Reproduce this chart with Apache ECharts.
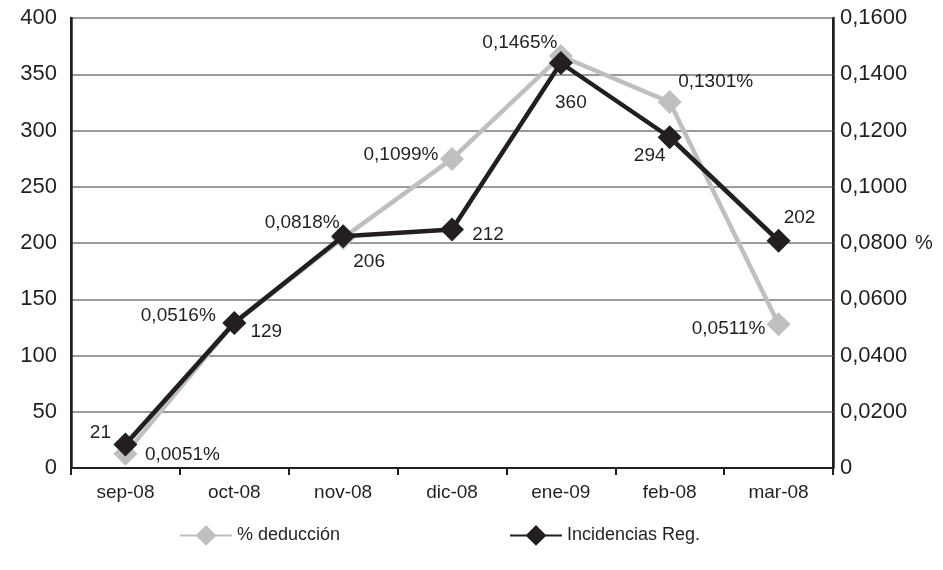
<!DOCTYPE html>
<html>
<head>
<meta charset="utf-8">
<script src="https://cdn.jsdelivr.net/npm/echarts@6/dist/echarts.min.js"></script>
<style>
  html, body { margin: 0; padding: 0; background: #ffffff; }
  #chart { width: 943px; height: 570px; }
</style>
</head>
<body>
<div id="chart"></div>
<script>
// Months on the horizontal axis
const categories = ['sep-08', 'oct-08', 'nov-08', 'dic-08', 'ene-09', 'feb-08', 'mar-08'];

// Registered incidents (left axis)
const incidencias = [21, 129, 206, 212, 360, 294, 202];

// Deduction percentage (right axis)
const deduccion = [0.0051, 0.0516, 0.0818, 0.1099, 0.1465, 0.1301, 0.0511];

// Axis ranges
const leftAxisRange = { min: 0, max: 400, interval: 50 };
const rightAxisRange = { min: 0, max: 0.16, interval: 0.02 };

// Label placement around each marker (pixels from the marker centre)
const deduccionLabelOffsets = [[57, 1], [-56, -7], [-41, -15], [-51, -4], [-41, -13], [46, -20], [-50, 4]];
const incidenciasLabelOffsets = [[-25, -12], [32, 9], [26, 26], [36, 5], [10, 40], [-20, 19], [21, -23]];

const FONT = '"Liberation Sans", Arial, sans-serif';
const INK = '#231f20';
const GREY = '#bfbfc1';

function fmtPct(v) {
  return v.toFixed(4).replace('.', ',') + '%';
}

const chart = echarts.init(document.getElementById('chart'), null, { renderer: 'canvas' });

chart.setOption({
  animation: false,
  backgroundColor: '#ffffff',
  textStyle: { fontFamily: FONT, color: INK },
  grid: {
    left: 71, right: 110, top: 18, bottom: 102,
    show: true, borderColor: INK, borderWidth: 2
  },
  legend: [
    {
      data: ['% deducción'],
      left: 174, top: 520,
      itemWidth: 52, itemHeight: 26,
      textStyle: { fontFamily: FONT, fontSize: 18, color: INK }
    },
    {
      data: ['Incidencias Reg.'],
      left: 504, top: 520,
      itemWidth: 52, itemHeight: 26,
      textStyle: { fontFamily: FONT, fontSize: 18, color: INK }
    }
  ],
  xAxis: {
    type: 'category',
    data: categories,
    boundaryGap: true,
    axisLine: { show: true, lineStyle: { color: INK, width: 2 } },
    axisTick: { show: true, length: 7, inside: false, lineStyle: { color: INK, width: 2 } },
    axisLabel: { fontFamily: FONT, fontSize: 19, color: INK, margin: 15 },
    splitLine: { show: false }
  },
  yAxis: [
    {
      type: 'value',
      position: 'left',
      min: leftAxisRange.min, max: leftAxisRange.max, interval: leftAxisRange.interval,
      axisLine: { show: true, lineStyle: { color: INK, width: 2.5 } },
      axisTick: { show: false },
      axisLabel: { fontFamily: FONT, fontSize: 22, color: INK, margin: 14 },
      splitLine: { show: true, lineStyle: { color: '#9a9a9a', width: 2 } }
    },
    {
      type: 'value',
      position: 'right',
      min: rightAxisRange.min, max: rightAxisRange.max, interval: rightAxisRange.interval,
      name: '%',
      nameLocation: 'middle',
      nameRotate: 0,
      nameGap: 82,
      nameTextStyle: { fontFamily: FONT, fontSize: 20, color: INK },
      axisLine: { show: true, lineStyle: { color: INK, width: 2.5 } },
      axisTick: { show: false },
      axisLabel: {
        fontFamily: FONT, fontSize: 22, color: INK, margin: 7,
        formatter: v => (v === 0 ? '0' : v.toFixed(4).replace('.', ','))
      },
      splitLine: { show: false }
    }
  ],
  series: [
    {
      name: '% deducción',
      type: 'line',
      yAxisIndex: 1,
      data: deduccion.map((v, i) => ({
        value: v,
        label: { offset: deduccionLabelOffsets[i] }
      })),
      symbol: 'diamond',
      symbolSize: 24,
      itemStyle: { color: GREY },
      lineStyle: { color: GREY, width: 4.5 },
      z: 2,
      label: {
        show: true,
        position: 'inside',
        fontFamily: FONT, fontSize: 19, color: INK,
        formatter: p => fmtPct(p.value)
      }
    },
    {
      name: 'Incidencias Reg.',
      type: 'line',
      yAxisIndex: 0,
      data: incidencias.map((v, i) => ({
        value: v,
        label: { offset: incidenciasLabelOffsets[i] }
      })),
      symbol: 'diamond',
      symbolSize: 24,
      itemStyle: { color: INK },
      lineStyle: { color: INK, width: 4.5 },
      z: 3,
      label: {
        show: true,
        position: 'inside',
        fontFamily: FONT, fontSize: 19, color: INK,
        formatter: p => String(p.value)
      }
    }
  ]
});
</script>
</body>
</html>
